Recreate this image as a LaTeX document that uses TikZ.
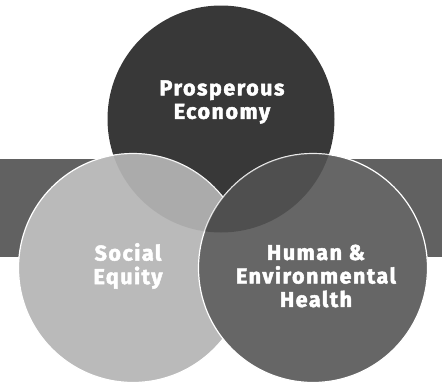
\documentclass[tikz,border=0pt]{standalone}
\usepackage{fontspec}
\setmainfont{Fira Sans}
\newfontfamily\heavyfont{Fira Sans}[BoldFeatures={FakeBold=2.2,LetterSpace=7}]
\begin{document}
\begin{tikzpicture}[x=1pt,y=-1pt,
  lbl/.style={text=white,font=\heavyfont\fontsize{21.5}{23.5}\selectfont\bfseries,align=center},
  circ/.style={circle,minimum size=#1,inner sep=0pt}]
\useasboundingbox (0,0) rectangle (442,383);
\fill[black!62] (0,159) rectangle (442,257);
\node[circ=227pt,fill=black!78] (eco) at (221,119) {};
\node[circ=229pt,fill=black!27,draw=white,line width=1.2pt] (soc) at (133,268) {};
\begin{scope}
  \clip (133,268) circle (114.5);
  \fill[black,opacity=0.08] (221,119) circle (113.5);
\end{scope}
\node[circ=229pt,fill=black!60,draw=white,line width=1.2pt] (hea) at (313,268) {};
\begin{scope}
  \clip (313,268) circle (114.5);
  \fill[black,opacity=0.22] (221,119) circle (113.5);
\end{scope}
\node[lbl] (t1) at (222,102) {Prosperous\\Economy};
\node[lbl] (t2) at (128,266) {Social\\Equity};
\node[lbl] (t3) at (316,276) {Human \&\\Environmental\\Health};
\end{tikzpicture}
\end{document}
